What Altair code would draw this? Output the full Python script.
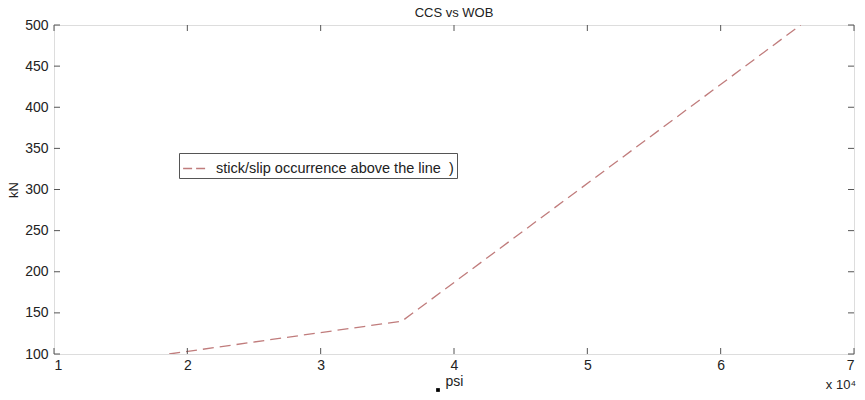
import altair as alt
import pandas as pd

# data
psi = [18640, 36100, 66000]
kn = [100, 140, 500]
series_name = "stick/slip occurrence above the line\u00a0\u00a0)"
x_ticks = [10000, 20000, 30000, 40000, 50000, 60000, 70000]
y_ticks = [100, 150, 200, 250, 300, 350, 400, 450, 500]

W, H = 800, 329
FONT = "Liberation Sans"
AX = "#555555"
LINE = "#c07c7c"

df = pd.DataFrame({"psi": psi, "kN": kn, "s": [series_name] * len(psi)})
xt = pd.DataFrame({"v": x_ticks})
yt = pd.DataFrame({"v": y_ticks})

xs = alt.Scale(domain=[10000, 70000], nice=False, zero=False)
ys = alt.Scale(domain=[100, 500], nice=False, zero=False)

line = alt.Chart(df).mark_line(strokeDash=[11, 6], strokeWidth=1.3, clip=True).encode(
    x=alt.X("psi:Q", scale=xs, title="psi",
            axis=alt.Axis(values=x_ticks, labelExpr="datum.value/10000", tickSize=0,
                          domain=False, grid=False, labelPadding=4, titlePadding=2,
                          labelFontSize=14, titleFontSize=14, labelFont=FONT, titleFont=FONT,
                          titleFontWeight="normal", labelColor="#222", titleColor="#222")),
    y=alt.Y("kN:Q", scale=ys, title="kN",
            axis=alt.Axis(values=y_ticks, tickSize=0, domain=False, grid=False,
                          labelPadding=6, titlePadding=4, labelFontSize=14, titleFontSize=13,
                          labelFont=FONT, titleFont=FONT, titleFontWeight="normal",
                          labelColor="#222", titleColor="#222")),
    color=alt.Color("s:N", scale=alt.Scale(range=[LINE]),
                    legend=alt.Legend(title=None, orient="none", legendX=125, legendY=128,
                                      symbolType="stroke", symbolStrokeWidth=1.3,
                                      symbolDash=[9, 4], symbolSize=520, labelOffset=9,
                                      strokeColor=AX, padding=3, fillColor="white",
                                      labelFont=FONT, labelFontSize=14.5, labelColor="#222",
                                      labelLimit=400)),
)

tick_len = 6
bx = alt.Chart(xt).mark_rule(color=AX, strokeWidth=1).encode(
    x=alt.X("v:Q", scale=xs), y=alt.value(H), y2=alt.value(H - tick_len))
tx = alt.Chart(xt).mark_rule(color=AX, strokeWidth=1).encode(
    x=alt.X("v:Q", scale=xs), y=alt.value(0), y2=alt.value(tick_len))
ly = alt.Chart(yt).mark_rule(color=AX, strokeWidth=1).encode(
    y=alt.Y("v:Q", scale=ys), x=alt.value(0), x2=alt.value(tick_len))
ry = alt.Chart(yt).mark_rule(color=AX, strokeWidth=1).encode(
    y=alt.Y("v:Q", scale=ys), x=alt.value(W), x2=alt.value(W - tick_len))

exp = alt.Chart(pd.DataFrame({"t": ["x 10⁴"]})).mark_text(
    font=FONT, fontSize=13, color="#222", align="right", baseline="middle").encode(
    text="t:N", x=alt.value(W + 2), y=alt.value(H + 31))

dot = alt.Chart(pd.DataFrame({"t": [1]})).mark_square(size=14, color="black", opacity=1).encode(
    x=alt.value(384), y=alt.value(H + 36))

chart = alt.layer(line, bx, tx, ly, ry, exp, dot).properties(
    width=W, height=H,
    title=alt.Title("CCS vs WOB", font=FONT, fontSize=13, fontWeight="normal", color="#222",
                    offset=-2),
    autosize=alt.AutoSizeParams(type="none"),
    padding={"left": 46, "top": 17, "right": 3, "bottom": 38},
).configure_view(stroke=AX, strokeWidth=1.2).configure(background="white")

chart.save("out.html", embed_options={"renderer": "svg", "actions": False})
